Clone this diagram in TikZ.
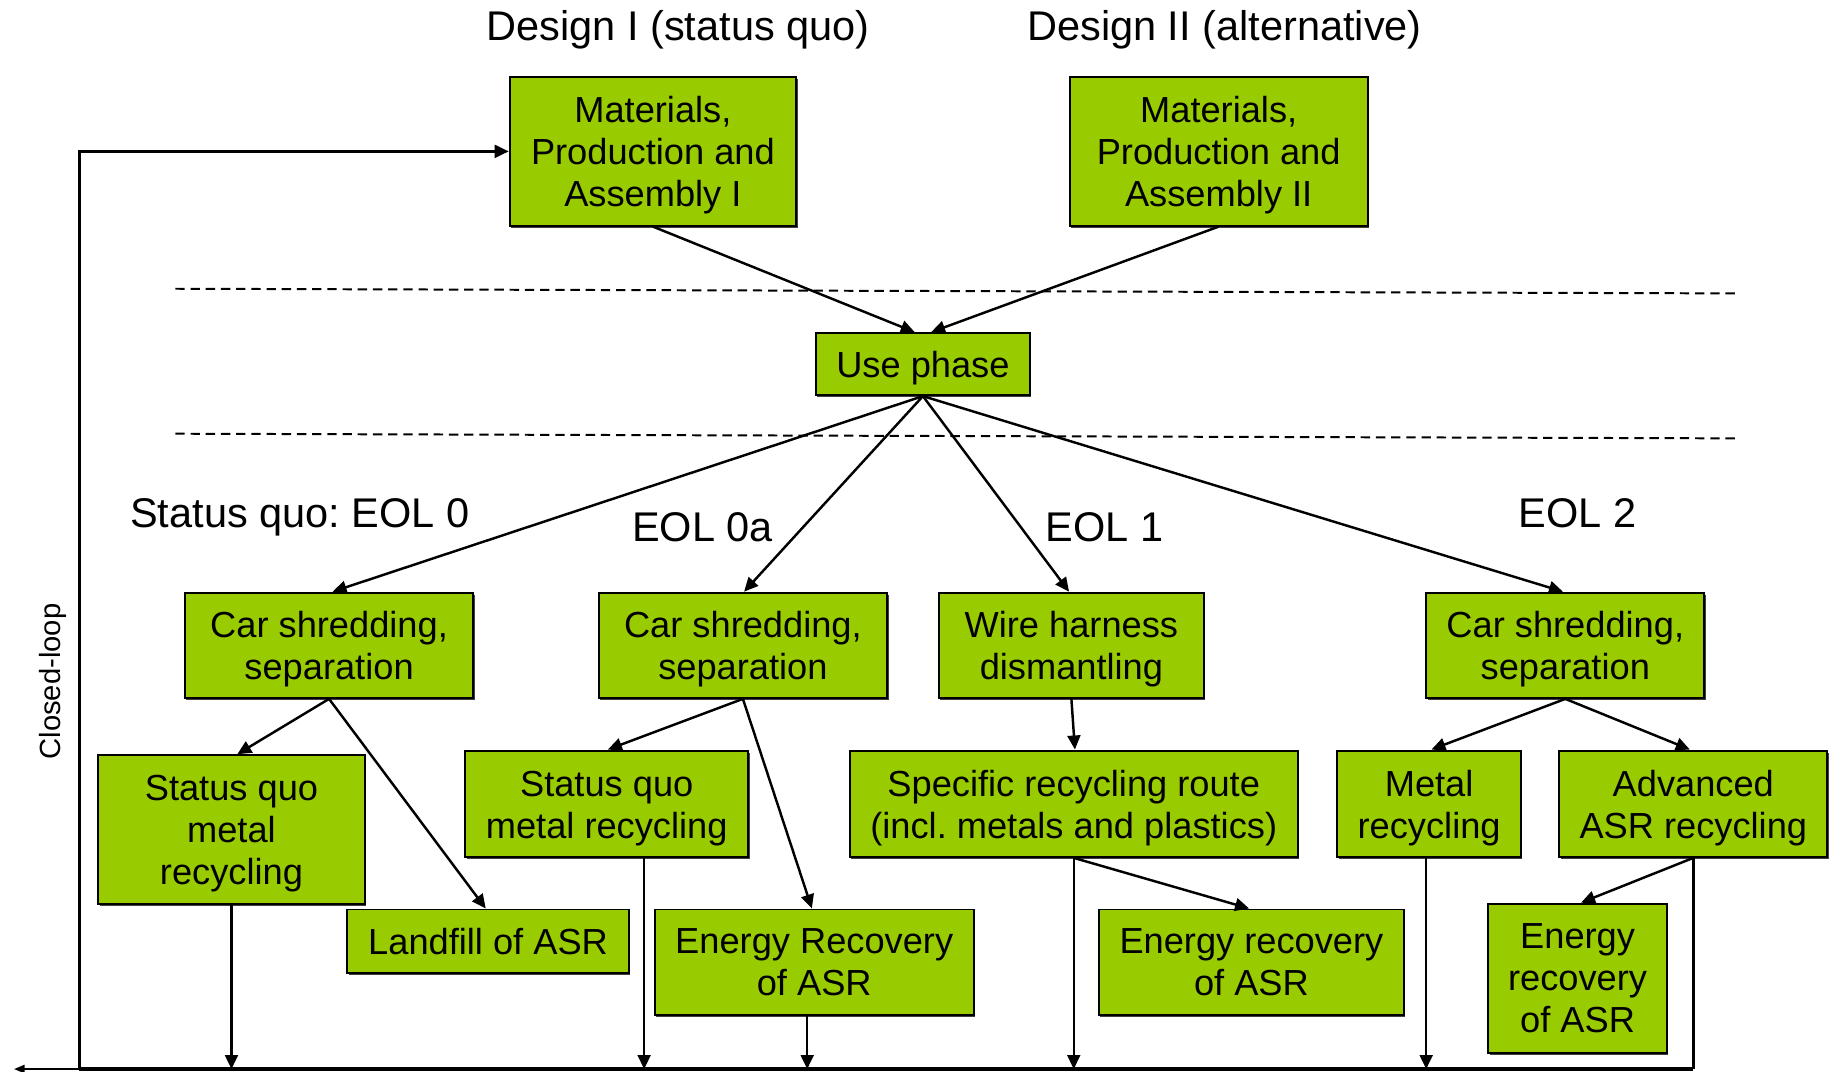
\documentclass[tikz,border=0pt]{standalone}
\usepackage{fontspec}
\setmainfont{Liberation Sans}
\usetikzlibrary{arrows.meta,shadows}
\definecolor{boxgreen}{HTML}{99CC00}
\newcommand\ts{\rule{0pt}{29.5pt}}
\frenchspacing
\begin{document}
\begin{tikzpicture}[x=1pt,y=-1pt,
  box/.style={draw=black,line width=1.7pt,fill=boxgreen,align=center,inner sep=0pt,
    font=\fontsize{31}{36}\selectfont,
    drop shadow={shadow xshift=1.2pt,shadow yshift=-1.8pt,fill=black!75,opacity=1}},
  lbl/.style={anchor=base,inner sep=0pt,font=\fontsize{35.5}{40}\selectfont},
  conn/.style={line width=2.1pt,-{Triangle[length=12pt,width=11pt]}},
  plain/.style={line width=2.1pt},
  dashline/.style={line width=1.7pt,dash pattern=on 8pt off 5pt}]
\useasboundingbox (0,0) rectangle (1568,917);

% titles and labels
\node[lbl] (t1) at (580,35) {Design I (status quo)};
\node[lbl] (t2) at (1047.5,35) {Design II (alternative)};
\node[lbl] (l0) at (256.5,451) {Status quo: EOL 0};
\node[lbl] (l0a) at (601,463) {EOL 0a};
\node[lbl] (l1) at (945,463) {EOL 1};
\node[lbl] (l2) at (1349.5,451) {EOL 2};
\node[rotate=90,inner sep=0pt,font=\fontsize{25}{30}\selectfont] (cl) at (45,583) {Closed-loop};

% dashed separators
\coordinate (d1a) at (150,247); \coordinate (d1b) at (1488,251);
\coordinate (d2a) at (150,371); \coordinate (d2b) at (1488,375);
\draw[dashline] (d1a) -- (d1b);
\draw[dashline] (d2a) -- (d2b);

% boxes
\node[box,minimum width=245pt,minimum height=127pt] (m1) at (558.5,129.5) {\ts Materials,\\Production and\\Assembly I};
\node[box,minimum width=255pt,minimum height=127pt] (m2) at (1042.5,129.5) {\ts Materials,\\Production and\\Assembly II};
\node[box,minimum width=183pt,minimum height=53pt] (use) at (789.5,311.5) {\ts Use phase};
\node[box,minimum width=247pt,minimum height=90pt] (cs1) at (281.5,552) {\ts Car shredding,\\ separation};
\node[box,minimum width=247pt,minimum height=90pt] (cs0a) at (635.5,552) {\ts Car shredding,\\ separation};
\node[box,minimum width=227pt,minimum height=90pt] (wh) at (916.5,552) {\ts Wire harness\\dismantling};
\node[box,minimum width=238pt,minimum height=90pt] (cs2) at (1339,552) {\ts Car shredding,\\ separation};
\node[box,minimum width=228pt,minimum height=127pt] (sqm) at (198,709.5) {\ts Status quo\\metal\\recycling};
\node[box,minimum width=241pt,minimum height=54pt] (lf) at (417.5,805) {Landfill of ASR};
\node[box,minimum width=242pt,minimum height=91pt] (sq0a) at (519,687.5) {\ts Status quo\\metal recycling};
\node[box,minimum width=273pt,minimum height=90pt] (er0a) at (696.5,823) {Energy Recovery\\of ASR};
\node[box,minimum width=383pt,minimum height=91pt] (spec) at (918.5,687.5) {\ts Specific recycling route\\(incl. metals and plastics)};
\node[box,minimum width=261pt,minimum height=90pt] (er1) at (1070.5,823) {Energy recovery\\of ASR};
\node[box,minimum width=157pt,minimum height=91pt] (metal) at (1222.5,687.5) {\ts Metal\\recycling};
\node[box,minimum width=229pt,minimum height=91pt] (adv) at (1448.5,687.5) {\ts Advanced\\ASR recycling};
\node[box,minimum width=153pt,minimum height=128pt] (er2) at (1349.5,837) {Energy\\recovery\\of ASR};

% bottom collector line
\coordinate (bot) at (0,914.5);
\coordinate (botR) at (1448,914.5);
\coordinate (botL) at (68,914.5);
\coordinate (botEnd) at (12,914.5);

% top connectors
\draw[conn] (m1.south) -- ([xshift=-7pt]use.north);
\draw[conn] (m2.south) -- ([xshift=7pt]use.north);
\draw[conn] (use.south) -- ([xshift=3pt]cs1.north);
\draw[conn] (use.south) -- ([xshift=1pt]cs0a.north);
\draw[conn] (use.south) -- ([xshift=-2pt]wh.north);
\draw[conn] (use.south) -- ([xshift=-2pt]cs2.north);

% second level
\draw[conn] (cs1.south) -- ([xshift=5pt]sqm.north);
\draw[conn] (cs1.south) -- ([xshift=-2pt]lf.north);
\draw[conn] (cs0a.south) -- ([xshift=1pt]sq0a.north);
\draw[conn] (cs0a.south) -- ([xshift=-2pt]er0a.north);
\draw[conn] (wh.south) -- ([xshift=1pt]spec.north);
\draw[conn] (spec.south) -- ([xshift=-2pt]er1.north);
\draw[conn] (cs2.south) -- ([xshift=2pt]metal.north);
\draw[conn] (cs2.south) -- ([xshift=-3pt]adv.north);
\draw[conn] (adv.south) -- ([xshift=3pt]er2.north);

% down to collector
\draw[conn] (sqm.south) -- (sqm.south |- bot);
\draw[conn] ([xshift=32pt]sq0a.south) -- ([xshift=32pt]sq0a.south |- bot);
\draw[conn] ([xshift=-6pt]er0a.south) -- ([xshift=-6pt]er0a.south |- bot);
\draw[conn] (spec.south) -- (spec.south |- bot);
\draw[conn] ([xshift=-2.5pt]metal.south) -- ([xshift=-2.5pt]metal.south |- bot);
\draw[plain] (adv.south) -- (adv.south |- bot);

% collector and closed loop
\draw[line width=2.8pt] (botR) -- (botL);
\draw[line width=1.6pt,-{Triangle[length=9pt,width=7pt]}] (botL) -- (botEnd);
\draw[conn] (botL) |- (m1.west);
\end{tikzpicture}
\end{document}
